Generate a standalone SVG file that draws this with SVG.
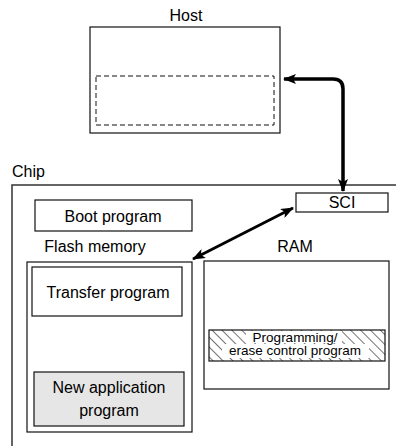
<svg xmlns="http://www.w3.org/2000/svg" width="396" height="446" viewBox="0 0 396 446">
<style>
text{font-family:"Liberation Sans",Arial,sans-serif;fill:#000}
.lbl{font-size:16px}
.sm{font-size:13.5px}
.box{fill:#fff;stroke:#111;stroke-width:1.2}
.conn{fill:none;stroke:#000}
</style>
<defs>
<marker id="ah" markerUnits="userSpaceOnUse" viewBox="0 0 13 10" refX="12" refY="5" markerWidth="13" markerHeight="10" orient="auto-start-reverse">
<path d="M0,0 L13,5 L0,10 L3,5 Z" fill="#000"/>
</marker>
<pattern id="hatch" patternUnits="userSpaceOnUse" width="7" height="7" patternTransform="rotate(-45)">
<line x1="0" y1="0" x2="0" y2="7" stroke="#000" stroke-width="1.1"/>
</pattern>
</defs>
<g id="host">
<text class="lbl" x="186" y="21" text-anchor="middle">Host</text>
<rect class="box" x="90" y="27" width="190" height="106"/>
<rect x="96" y="76" width="178" height="49" fill="none" stroke="#111" stroke-width="1" stroke-dasharray="5,3"/>
</g>
<g id="chip">
<text class="lbl" x="12" y="177">Chip</text>
<path d="M12,446 V185 H396" fill="none" stroke="#333" stroke-width="1.5"/>
</g>
<g id="sci">
<rect class="box" x="296" y="193" width="92" height="19"/>
<text class="lbl" x="342" y="208" text-anchor="middle">SCI</text>
</g>
<g id="boot">
<rect class="box" x="35" y="200" width="157" height="31"/>
<text class="lbl" x="113" y="222" text-anchor="middle">Boot program</text>
</g>
<g id="flash">
<text class="lbl" x="95" y="252" text-anchor="middle">Flash memory</text>
<rect class="box" x="27" y="262" width="165" height="170"/>
</g>
<g id="transfer">
<rect class="box" x="32" y="267" width="150" height="49"/>
<text class="lbl" x="108" y="298" text-anchor="middle">Transfer program</text>
</g>
<g id="newapp">
<rect x="34" y="372" width="150" height="54" fill="#e6e6e6" stroke="#111" stroke-width="1.2"/>
<text class="lbl" x="109" y="393" text-anchor="middle">New application</text>
<text class="lbl" x="109" y="416" text-anchor="middle">program</text>
</g>
<g id="ram">
<text class="lbl" x="295" y="252" text-anchor="middle">RAM</text>
<rect class="box" x="204" y="261" width="185" height="128"/>
</g>
<g id="pecp">
<rect x="209" y="330" width="176" height="31" fill="url(#hatch)" stroke="#111" stroke-width="1.2"/>
<rect x="246" y="331" width="96" height="12" fill="#fff"/>
<rect x="222" y="344" width="147" height="14" fill="#fff"/>
<text class="sm" x="295" y="341.5" text-anchor="middle">Programming/</text>
<text class="sm" x="295" y="355" text-anchor="middle">erase control program</text>
</g>
<g id="connectors">
<path class="conn" d="M284,79 H333 Q343,79 343,89 V191" stroke-width="3.5" marker-start="url(#ah)" marker-end="url(#ah)"/>
<path class="conn" d="M293,208 L193,259" stroke-width="2.8" marker-start="url(#ah)" marker-end="url(#ah)"/>
</g>
</svg>
